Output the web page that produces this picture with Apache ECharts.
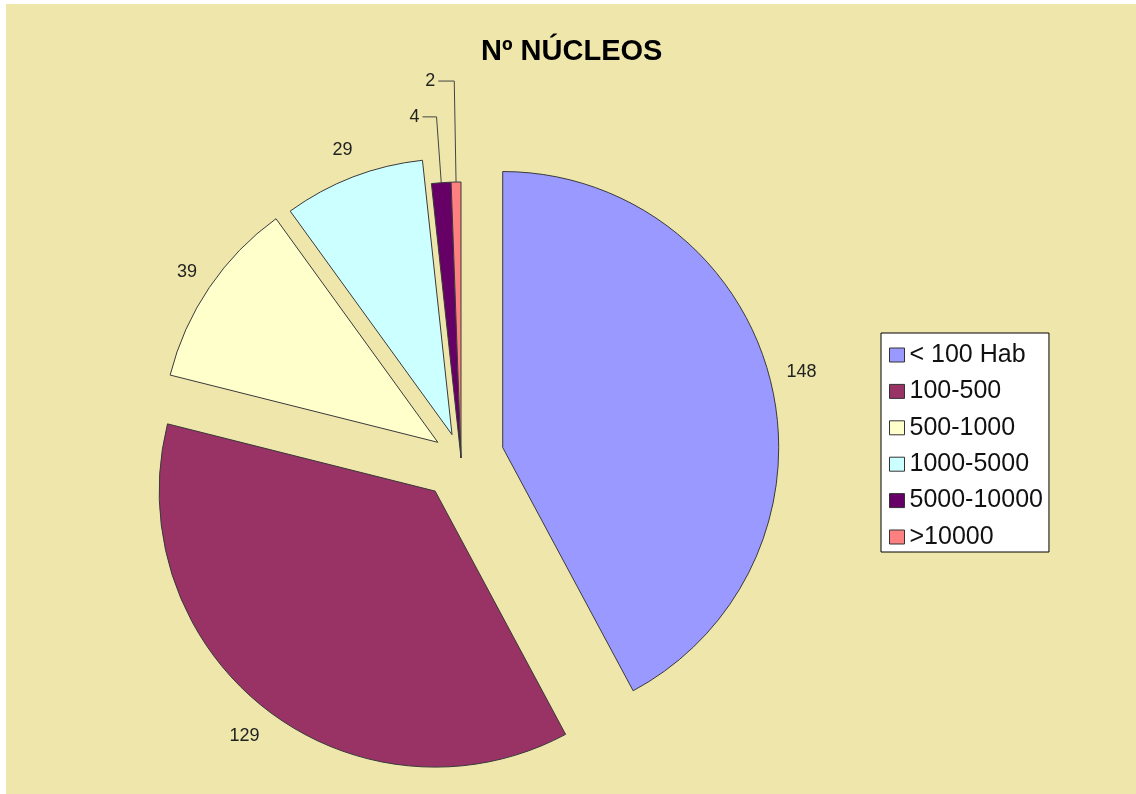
<!DOCTYPE html>
<html><head><meta charset="utf-8">
<script src="https://cdn.jsdelivr.net/npm/echarts@6/dist/echarts.min.js"></script>
<style>html,body{margin:0;padding:0;background:#fff;}#c{width:1136px;height:794px;}</style>
</head><body><div id="c"></div>
<script>
// ---- data ----
const titleText = 'Nº NÚCLEOS';
const categories = ['< 100 Hab', '100-500', '500-1000', '1000-5000', '5000-10000', '>10000'];
const values = [148, 129, 39, 29, 4, 2];

// ---- styles ----
const colors = ['#9999FF', '#993366', '#FFFFCC', '#CCFFFF', '#660066', '#FF8080'];
const explode = [43, 42, 28, 25, 0, 0];
const labelLen = [32, 34, 27, 29, 66, 101];
const labelLen2 = [0, 0, 0, 0, 14, 16];
const labelDist = [-15, -15, -10, -10, 3, 3];
const showLine = [false, false, false, false, true, true];
const FONT = "'Liberation Sans', Arial, sans-serif";
const BG = '#EFE6AB';

const chart = echarts.init(document.getElementById('c'), null, { renderer: 'canvas' });

const series = categories.map((_, k) => ({
  type: 'pie',
  center: [461, 458],
  radius: 276,
  startAngle: 90,
  clockwise: true,
  avoidLabelOverlap: false,
  selectedMode: 'multiple',
  selectedOffset: explode[k],
  animation: false,
  silent: true,
  emphasis: { disabled: true },
  z: 2 + k,
  data: categories.map((name, i) => {
    const own = i === k;
    return {
      name: name,
      value: values[i],
      selected: own && explode[k] > 0,
      itemStyle: own
        ? { color: colors[i], borderColor: '#3a3a3a', borderWidth: 1 }
        : { color: 'rgba(0,0,0,0)', borderWidth: 0 },
      label: {
        show: own,
        position: 'outside',
        formatter: '{c}',
        fontFamily: FONT,
        fontSize: 18,
        color: '#222',
        padding: [4, 0, 0, 0],
        distanceToLabelLine: labelDist[i],
        alignTo: 'none'
      },
      labelLine: {
        show: own && showLine[i],
        length: labelLen[i],
        length2: labelLen2[i],
        smooth: false,
        lineStyle: { color: '#444', width: 1 }
      }
    };
  })
}));

chart.setOption({
  animation: false,
  graphic: [{
    type: 'rect', z: -100, silent: true,
    shape: { x: 6, y: 4, width: 1130, height: 790 },
    style: { fill: BG }
  }],
  title: {
    text: titleText,
    left: 481,
    top: 37,
    padding: 0,
    textStyle: { fontFamily: FONT, fontSize: 29, fontWeight: 'bold', color: '#000' }
  },
  legend: {
    orient: 'vertical',
    left: 881,
    top: 333,
    padding: [9, 6, 2, 8],
    itemGap: 10.4,
    itemWidth: 15,
    itemHeight: 14,
    icon: 'rect',
    backgroundColor: '#fff',
    borderColor: '#000',
    borderWidth: 1,
    borderRadius: 0,
    selectedMode: false,
    textStyle: { fontFamily: FONT, fontSize: 25, lineHeight: 26, color: '#111' },
    data: categories.map((name, i) => ({
      name: name,
      icon: 'rect',
      itemStyle: { color: colors[i], borderColor: '#333', borderWidth: 1, opacity: 1 }
    }))
  },
  series: series
});
</script></body></html>
